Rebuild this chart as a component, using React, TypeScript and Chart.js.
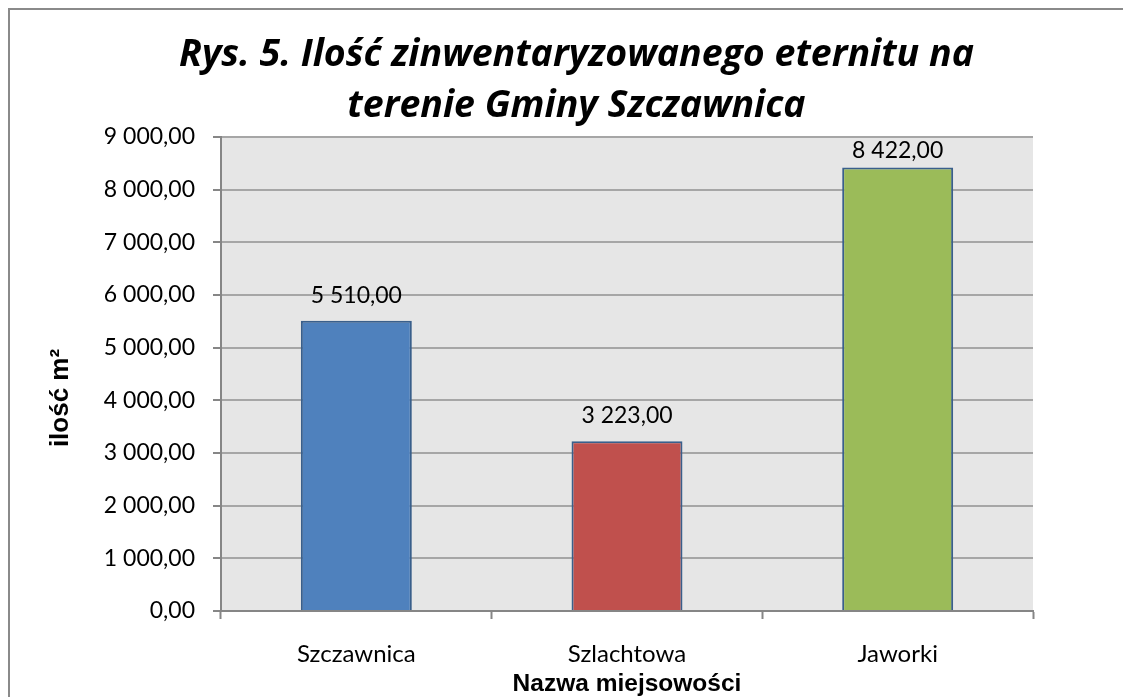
import React, { useEffect, useRef } from "react";
import { Chart, registerables } from "chart.js";

Chart.register(...registerables);

const categories = ["Szczawnica", "Szlachtowa", "Jaworki"];
const values = [5510, 3223, 8422];
const barColors = ["#4F81BD", "#C0504D", "#9BBB59"];
const barBorder = "#3A5F8B";
const yMin = 0;
const yMax = 9000;
const yStep = 1000;
const titleLines = ["Rys. 5. Ilość zinwentaryzowanego eternitu na", "terenie Gminy Szczawnica"];
const yAxisTitle = "ilość m²";
const xAxisTitle = "Nazwa miejsowości";

const fmt = (v: number) => {
  const [i, d] = Number(v).toFixed(2).split(".");
  return i.replace(/\B(?=(\d{3})+(?!\d))/g, " ") + "," + d;
};

const LABEL_FONT = "Lato";
const LABEL_SIZE = 23;

const CANVAS_W = 1121;
const CANVAS_H = 687;

const bgPlugin = {
  id: "plotBg",
  beforeDraw(chart: any) {
    const { ctx, chartArea } = chart;
    ctx.save();
    ctx.fillStyle = "#E6E6E6";
    ctx.fillRect(chartArea.left, chartArea.top, chartArea.right - chartArea.left, chartArea.bottom - chartArea.top);
    ctx.restore();
  },
};

const labelsPlugin = {
  id: "barLabels",
  afterDatasetsDraw(chart: any) {
    const { ctx, chartArea } = chart;
    const meta = chart.getDatasetMeta(0);
    const data = chart.data.datasets[0].data;
    ctx.save();
    ctx.font = `${LABEL_SIZE}px ${LABEL_FONT}`;
    ctx.fillStyle = "#000";
    ctx.textAlign = "center";
    ctx.textBaseline = "alphabetic";
    meta.data.forEach((el: any, i: number) => {
      const y = Math.max(el.y - 18, chartArea.top + 21);
      ctx.fillText(fmt(data[i] as number), el.x, y);
    });
    ctx.restore();
  },
};

const titlePlugin = {
  id: "chartTitle",
  afterDraw(chart: any) {
    const { ctx } = chart;
    ctx.save();
    ctx.font = `italic bold 37.5px "Open Sans", sans-serif`;
    ctx.fillStyle = "#000";
    ctx.textAlign = "center";
    ctx.textBaseline = "middle";
    titleLines.forEach((line, i) => {
      ctx.fillText(line, 566.5, 45 + i * 51);
    });
    ctx.restore();
  },
};

const yTitlePlugin = {
  id: "yTitle",
  afterDraw(chart: any) {
    const { ctx, chartArea } = chart;
    ctx.save();
    ctx.font = `bold 26px "Liberation Sans", Arial, sans-serif`;
    ctx.fillStyle = "#000";
    ctx.textAlign = "center";
    ctx.textBaseline = "middle";
    ctx.translate(51, (chartArea.top + chartArea.bottom) / 2 + 24);
    ctx.rotate(-Math.PI / 2);
    ctx.fillText(yAxisTitle, 0, 0);
    ctx.restore();
  },
};

export default function App() {
  const ref = useRef<HTMLCanvasElement | null>(null);

  useEffect(() => {
    if (!ref.current) return;
    Chart.defaults.color = "#000";
    const chart = new Chart(ref.current, {
      type: "bar",
      data: {
        labels: categories,
        datasets: [
          {
            data: values,
            backgroundColor: barColors,
            borderColor: barBorder,
            borderWidth: 2,
            categoryPercentage: 1,
            barPercentage: 0.41,
          },
        ],
      },
      options: {
        responsive: false,
        animation: false,
        devicePixelRatio: 1,
        layout: { padding: { left: 0, right: 98, top: 127, bottom: 0 } },
        plugins: {
          legend: { display: false },
          tooltip: { enabled: false },
          title: { display: false },
        },
        scales: {
          x: {
            afterFit(scale: any) {
              scale.height = 86;
            },
            grid: {
              offset: true,
              drawOnChartArea: false,
              drawTicks: true,
              tickLength: 8,
              tickColor: "#868686",
              tickWidth: 2,
            },
            border: { color: "#868686", width: 2 },
            ticks: {
              color: "#000",
              padding: 21,
              font: { family: LABEL_FONT, size: 24 },
            },
            title: {
              display: true,
              text: xAxisTitle,
              color: "#000",
              font: { family: "Liberation Sans", size: 24.5, weight: "bold", lineHeight: 1 },
              padding: { top: 0, bottom: 1 },
            },
          },
          y: {
            min: yMin,
            max: yMax,
            afterFit(scale: any) {
              scale.width = 211;
            },
            grid: {
              color: "#A6A6A6",
              lineWidth: 2,
              tickLength: 8,
              tickColor: "#868686",
              tickWidth: 2,
            },
            border: { color: "#868686", width: 2 },
            ticks: {
              stepSize: yStep,
              color: "#000",
              padding: 18,
              font: { family: LABEL_FONT, size: LABEL_SIZE },
              callback: (v: any) => fmt(Number(v)),
            },
          },
        },
      },
      plugins: [bgPlugin, labelsPlugin, titlePlugin, yTitlePlugin],
    });
    return () => chart.destroy();
  }, []);

  return (
    <div
      style={{
        width: 1121,
        height: 687,
        overflow: "hidden",
        borderTop: "2px solid #8A8A8A",
        borderLeft: "2px solid #8A8A8A",
        background: "#fff",
      }}
    >
      <canvas
        ref={ref}
        width={CANVAS_W}
        height={CANVAS_H}
        style={{ display: "block", width: CANVAS_W, height: CANVAS_H }}
      />
    </div>
  );
}
